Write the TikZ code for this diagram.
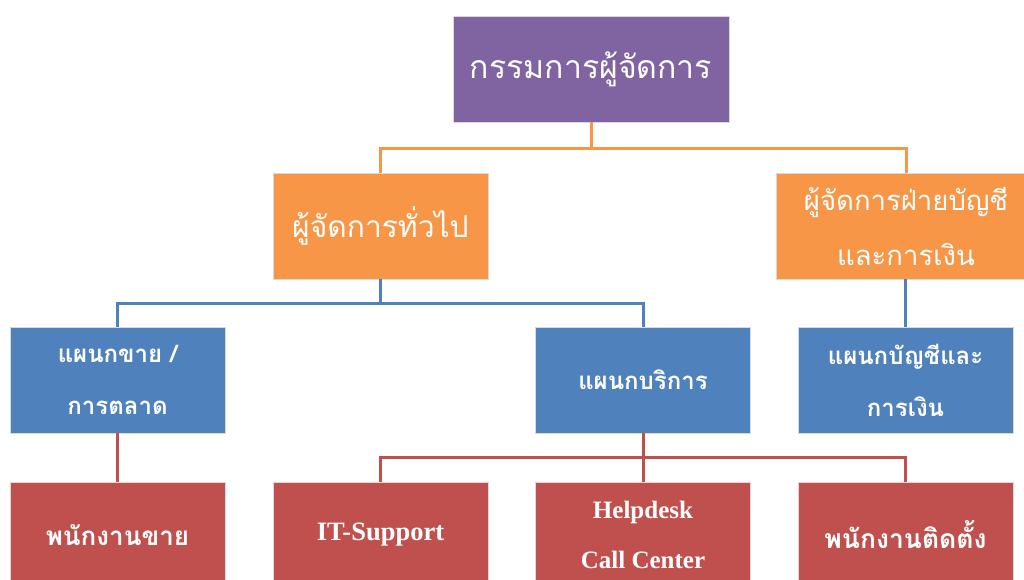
\documentclass[tikz,border=0pt]{standalone}
\usepackage{fontspec}
\setmainfont{Liberation Serif}
\newfontfamily\thai[Script=Thai]{Loma}
\newfontfamily\latinb{Liberation Serif}
\definecolor{cpurple}{HTML}{8064A2}
\definecolor{corange}{HTML}{F79646}
\definecolor{cblue}{HTML}{4F81BD}
\definecolor{cred}{HTML}{C0504D}
\tikzset{
  box/.style={rectangle, draw=white!85!black, line width=0.6pt, text=white, align=center, inner sep=0pt},
  big/.style={box, font=\thai\fontsize{32}{52}\selectfont},
  small/.style={box, font=\thai\bfseries\fontsize{24}{52}\selectfont, minimum width=215pt, minimum height=106pt},
  lvl1/.style={big, fill=cpurple},
  lvl2/.style={big, fill=corange},
  lvl3/.style={small, fill=cblue},
  lvl4/.style={small, fill=cred},
  link/.style={line width=3pt},
}
\begin{document}
\begin{tikzpicture}[x=1pt,y=-1pt]
\useasboundingbox (0,0) rectangle (1024,579);
\clip (0,0) rectangle (1024,579);
% level 1
\node[lvl1, minimum width=276pt, minimum height=106pt] (top) at (591,69) {กรรมการผู้จัดการ};
% level 2
\node[lvl2, minimum width=215pt, minimum height=106pt, font=\thai\fontsize{30}{52}\selectfont] (gm) at (380.5,226) {ผู้จัดการทั่วไป};
\node[lvl2, minimum width=260pt, minimum height=106pt, text width=260pt, font=\thai\fontsize{27.5}{55}\selectfont] (fm) at (906,226) {ผู้จัดการฝ่ายบัญชี\\และการเงิน};
% level 3
\node[lvl3] (sales) at (117.5,380) {แผนกขาย /\\การตลาด};
\node[lvl3] (serv) at (643,380) {แผนกบริการ};
\node[lvl3] (acc) at (905.5,380) {แผนกบัญชีและ\\การเงิน};
% level 4
\node[lvl4, font=\thai\bfseries\fontsize{26}{52}\selectfont] (salesp) at (117.5,535) {พนักงานขาย};
\node[lvl4, font=\latinb\bfseries\fontsize{26.5}{52}\selectfont] (it) at (380.5,535) {IT-Support};
\node[lvl4, font=\latinb\bfseries\fontsize{25}{50}\selectfont] (help) at (643,535) {Helpdesk\\Call Center};
\node[lvl4, font=\thai\bfseries\fontsize{26.5}{52}\selectfont] (inst) at (905.5,535) {พนักงานติดตั้ง};
% junctions
\coordinate (j1) at (591,148);
\coordinate (j2) at (380.5,303);
\coordinate (j3) at (643,457);
% connectors
\draw[link, corange] (top.south) -- (j1);
\draw[link, corange] (gm.north) |- (j1) -| (fm.north);
\draw[link, cblue] (gm.south) -- (j2);
\draw[link, cblue] (sales.north) |- (j2) -| (serv.north);
\draw[link, cblue] (fm.south -| acc.north) -- (acc.north);
\draw[link, cred] (sales.south) -- (salesp.north);
\draw[link, cred] (serv.south) -- (help.north);
\draw[link, cred] (it.north) |- (j3) -| (inst.north);
\end{tikzpicture}
\end{document}
